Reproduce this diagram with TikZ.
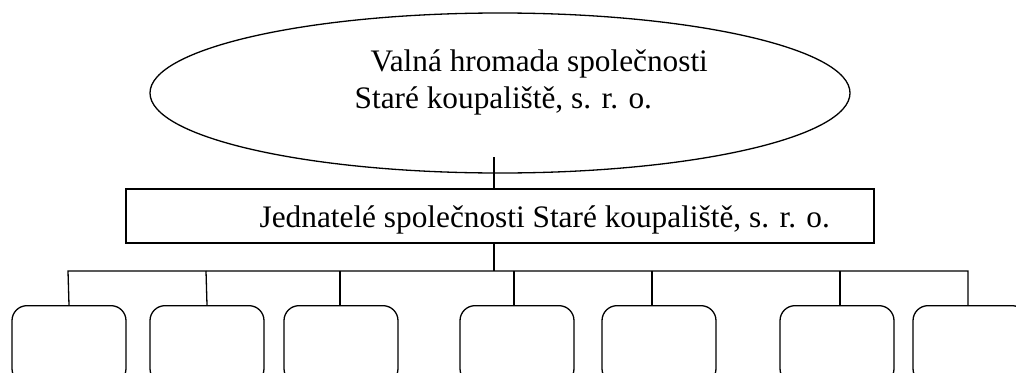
\documentclass[tikz,border=0pt]{standalone}
\usepackage{fontspec}
\setmainfont{Liberation Serif}
\usetikzlibrary{shapes.geometric}
\begin{document}
\begin{tikzpicture}[x=1pt,y=-1pt,line width=1.3pt,
  unitbox/.style={draw,rounded corners=15pt,minimum width=114pt,minimum height=78pt,anchor=north,inner sep=0pt},
  lbl/.style={anchor=base west,inner sep=0pt,font=\fontsize{31.3}{36}\selectfont},
  conn/.style={draw,line width=1.3pt}]
\useasboundingbox (0,0) rectangle (1016,372);
\clip (0,0) rectangle (1016,372);
\node[draw,ellipse,minimum width=700pt,minimum height=160pt,inner sep=0pt] (gm) at (500,93) {};
\node[lbl] (gm1) at (370,71) {Valná hromada společnosti};
\node[lbl] (gm2) at (354,108) {Staré koupaliště, s. r. o.};
\node[draw,minimum width=748pt,minimum height=54pt,inner sep=0pt] (jed) at (500,216) {};
\node[lbl] (jedt) at (259,227) {Jednatelé společnosti Staré koupaliště, s. r. o.};
\coordinate (top) at (494,157);
\coordinate (c1) at (68,271);
\coordinate (c2) at (206,271);
\coordinate (c3) at (340,271);
\coordinate (c4) at (514,271);
\coordinate (c5) at (652,271);
\coordinate (c6) at (840,271);
\coordinate (c7) at (968,271);
\node[unitbox] (b1) at (69,305) {};
\node[unitbox] (b2) at (207,305) {};
\node[unitbox] (b3) at (341,305) {};
\node[unitbox] (b4) at (517,305) {};
\node[unitbox] (b5) at (659,305) {};
\node[unitbox] (b6) at (837,305) {};
\node[unitbox] (b7) at (970,305) {};
\draw[conn] (top) -- (jed.north -| top);
\draw[conn] (jed.south -| top) -- (top |- c1);
\draw[conn] (b1.north) -- (c1) -- (c7) -- (c7 |- b7.north);
\draw[conn] (c2) -- (b2.north);
\draw[conn] (c3) -- (c3 |- b3.north);
\draw[conn] (c4) -- (c4 |- b4.north);
\draw[conn] (c5) -- (c5 |- b5.north);
\draw[conn] (c6) -- (c6 |- b6.north);
\end{tikzpicture}
\end{document}
